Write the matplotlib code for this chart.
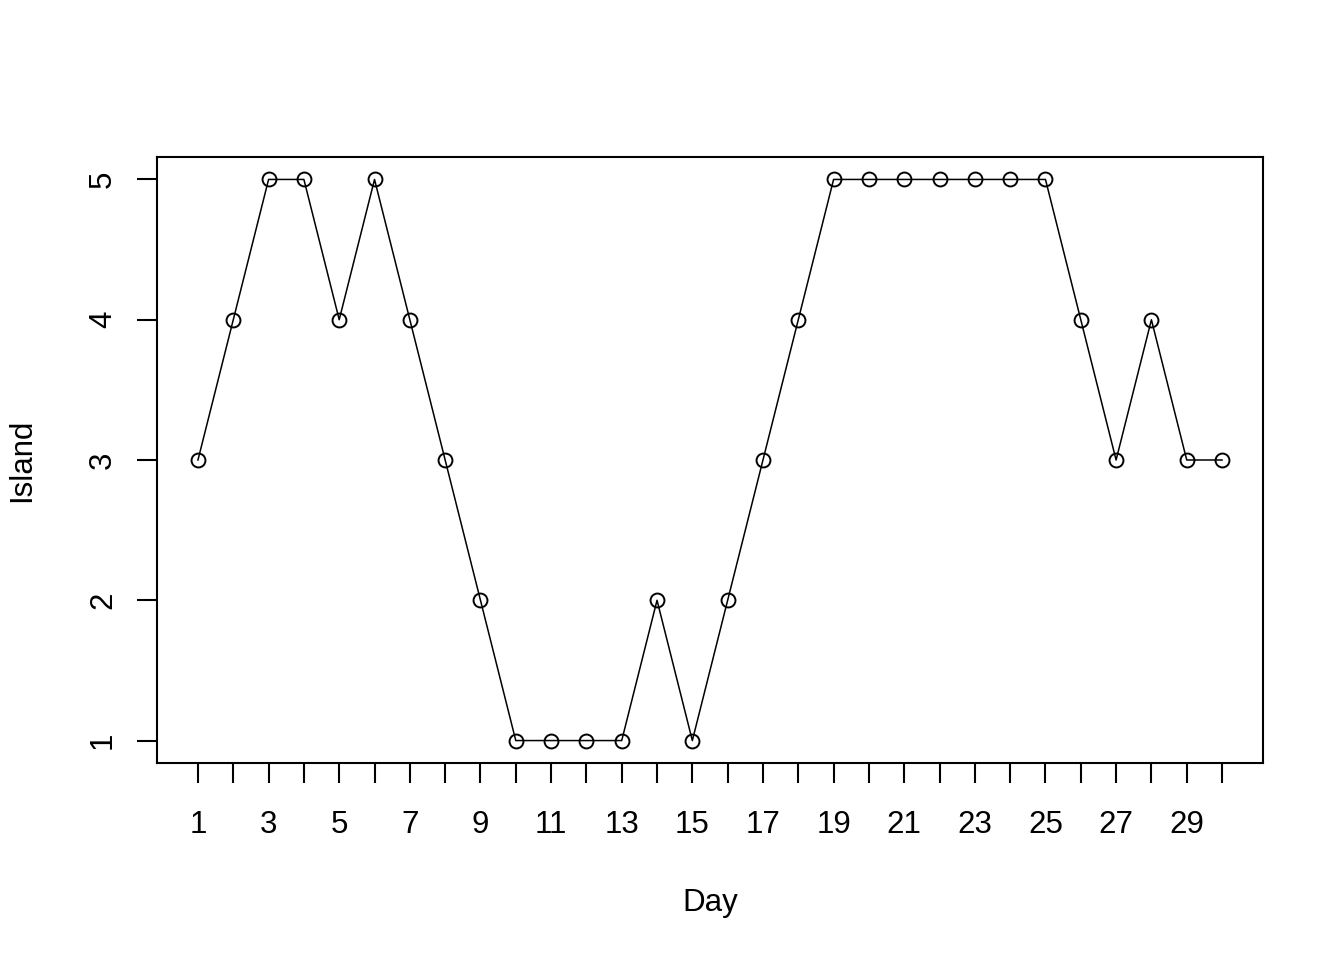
import matplotlib
matplotlib.use('Agg')
import matplotlib.pyplot as plt

plt.rcParams['font.family'] = ['Liberation Sans', 'DejaVu Sans']

# island visited per day
day = list(range(1, 31))
island = [3, 4, 5, 5, 4, 5, 4, 3, 2, 1,
          1, 1, 1, 2, 1, 2, 3, 4, 5, 5,
          5, 5, 5, 5, 5, 4, 3, 4, 3, 3]

fig = plt.figure(figsize=(13.44, 9.6), dpi=100)
ax = fig.add_axes([157/1344, 1-763/960, (1263-157)/1344, (763-157)/960])

ax.plot(day, island, color='black', linewidth=1.1, marker='o', markersize=10,
        markerfacecolor='none', markeredgecolor='black', markeredgewidth=1.4)

# R style 4% padding
ax.set_xlim(1 - 0.04*29, 30 + 0.04*29)
ax.set_ylim(1 - 0.04*4, 5 + 0.04*4)

for s in ax.spines.values():
    s.set_linewidth(1.5)

ax.set_xticks(day)
ax.set_xticklabels([str(d) if d % 2 == 1 else '' for d in day])
ax.set_yticks([1, 2, 3, 4, 5])
ax.set_yticklabels(['1', '2', '3', '4', '5'], rotation=90, va='center')
ax.tick_params(axis='both', direction='out', length=14.5, width=1.5, labelsize=22.5)
ax.tick_params(axis='x', pad=19)
ax.tick_params(axis='y', pad=13.5)

ax.set_xlabel('Day', fontsize=22.5, labelpad=35)
ax.set_ylabel('Island', fontsize=22.5, labelpad=37)

fig.savefig('out.png', dpi=100)
